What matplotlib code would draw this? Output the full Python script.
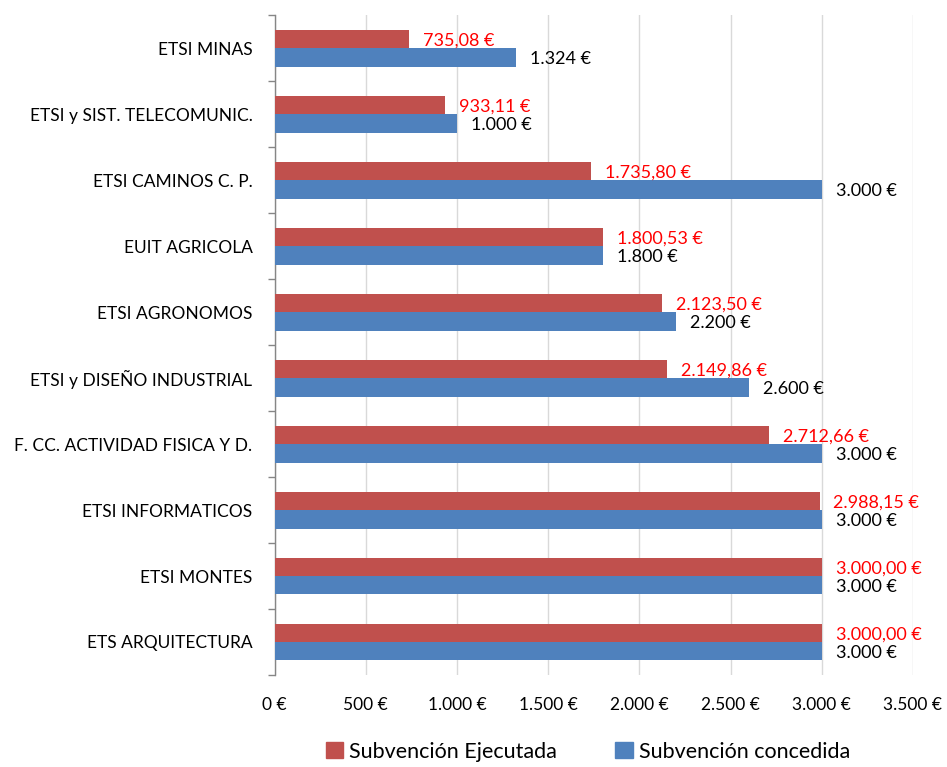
import numpy as np
import matplotlib
matplotlib.use("Agg")
import matplotlib.pyplot as plt
from matplotlib.ticker import FixedLocator, FuncFormatter
from matplotlib.patches import Patch

plt.rcParams['font.family'] = ['Lato', 'DejaVu Sans']

# Data (top to bottom as shown)
centros = ["ETSI MINAS", "ETSI y SIST. TELECOMUNIC.", "ETSI CAMINOS C. P.",
           "EUIT AGRICOLA", "ETSI AGRONOMOS", "ETSI y DISEÑO INDUSTRIAL",
           "F. CC. ACTIVIDAD FISICA Y D.", "ETSI INFORMATICOS", "ETSI MONTES",
           "ETS ARQUITECTURA"]
ejecutada = [735.08, 933.11, 1735.80, 1800.53, 2123.50, 2149.86,
             2712.66, 2988.15, 3000.00, 3000.00]
concedida = [1324, 1000, 3000, 1800, 2200, 2600, 3000, 3000, 3000, 3000]
x_ticks = [0, 500, 1000, 1500, 2000, 2500, 3000, 3500]

RED = "#C0504D"
BLUE = "#4F81BD"


def euro_int(v):
    return f"{int(round(v)):,} €".replace(",", ".")


def euro_dec(v):
    s = f"{v:,.2f}"
    s = s.replace(",", "X").replace(".", ",").replace("X", ".")
    return s + " €"


fig = plt.figure(figsize=(9.47, 7.67), dpi=100)
ax = fig.add_axes([0.290, 0.120, 0.674, 0.860])

y = np.arange(len(centros))
h = 0.28
ax.barh(y - h / 2, ejecutada, height=h, color=RED, zorder=3)
ax.barh(y + h / 2, concedida, height=h, color=BLUE, zorder=3)

for yi, v in zip(y, ejecutada):
    ax.annotate(euro_dec(v), (v, yi - h / 2), xytext=(10, -1), textcoords="offset points",
                va="center", ha="left", color="#FF0000", fontsize=13)
for yi, v in zip(y, concedida):
    ax.annotate(euro_int(v), (v, yi + h / 2), xytext=(10, -1), textcoords="offset points",
                va="center", ha="left", color="black", fontsize=13)

ax.set_xlim(0, 3500)
ax.set_ylim(len(centros) - 0.5, -0.5)
ax.xaxis.set_major_locator(FixedLocator(x_ticks))
ax.xaxis.set_major_formatter(FuncFormatter(lambda v, p: euro_int(v)))
ax.set_yticks(y)
ax.set_yticklabels(centros)
ax.yaxis.set_minor_locator(FixedLocator(np.arange(-0.5, len(centros), 1.0)))

ax.tick_params(axis="y", which="major", length=0, pad=16, labelsize=12.5)
ax.tick_params(axis="y", which="minor", length=5, color="#868686", width=1)
ax.tick_params(axis="x", which="major", length=0, pad=16, labelsize=12.5)

ax.grid(axis="x", color="#D9D9D9", linewidth=1, zorder=0)
for side in ["top", "right", "bottom"]:
    ax.spines[side].set_visible(False)
ax.spines["left"].set_color("#868686")
ax.spines["left"].set_linewidth(1)

handles = [Patch(color=RED, label="Subvención Ejecutada"),
           Patch(color=BLUE, label="Subvención concedida")]
fig.legend(handles=handles, loc="center", bbox_to_anchor=(0.621, 0.020),
           ncol=2, frameon=False, fontsize=15.5, handlelength=0.8, handleheight=0.8,
           handletextpad=0.3, columnspacing=2.7)

fig.savefig("out.png", dpi=100)
